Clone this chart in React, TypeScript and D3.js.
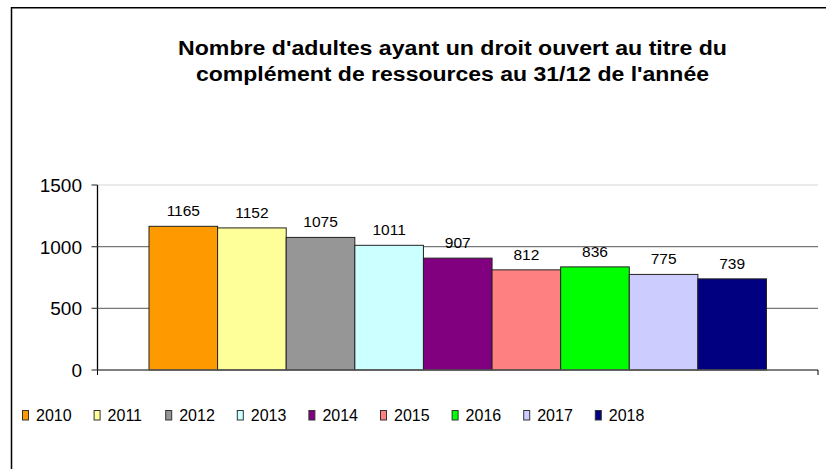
import React from 'react';
import * as d3 from 'd3';

const years = ['2010', '2011', '2012', '2013', '2014', '2015', '2016', '2017', '2018'];
const values = [1165, 1152, 1075, 1011, 907, 812, 836, 775, 739];
const colors = ['#FF9900', '#FFFF99', '#969696', '#CCFFFF', '#800080', '#FF8080', '#00FF00', '#CCCCFF', '#000080'];
const yTicks = [0, 500, 1000, 1500];
const titleLines = [
  "Nombre d'adultes ayant un droit ouvert au titre du",
  "complément de ressources au 31/12 de l'année",
];
const titleWidths = [549, 513];

const W = 826;
const H = 469;
const plotLeft = 97.5;
const plotRight = 818;
const plotTop = 185;
const plotBottom = 370;
const gap = 51.5;
const font = "'Liberation Sans', Arial, sans-serif";

export default function App() {
  const x = d3.scaleBand<string>().domain(years).range([plotLeft + gap, plotRight - gap]).padding(0);
  const y = d3.scaleLinear().domain([0, 1500]).range([plotBottom, plotTop]);
  const legendX = d3.scaleBand<string>().domain(years).range([22, 22 + 71.6 * years.length]);
  const top = y.domain()[1];

  return (
    <svg width={W} height={H} style={{ position: 'absolute', left: 0, top: 0, background: '#fff' }} fontFamily={font}>
      <rect x={0} y={0} width={W} height={H} fill="#fff" />
      {/* frame */}
      <line x1={11.5} y1={7.75} x2={W} y2={7.75} stroke="#000" strokeWidth={1.5} />
      <line x1={11.5} y1={7} x2={11.5} y2={H} stroke="#000" strokeWidth={1.5} />

      {/* title */}
      {titleLines.map((t, i) => (
        <text key={i} x={452.5} y={55 + i * 26} textAnchor="middle" fontWeight="bold" fontSize={20} fill="#000"
          textLength={titleWidths[i]} lengthAdjust="spacingAndGlyphs">
          {t}
        </text>
      ))}

      {/* gridlines */}
      {yTicks.filter((t) => t !== 0).map((t) => (
        <line key={t} x1={plotLeft} x2={plotRight} y1={y(t)} y2={y(t)}
          stroke={t === top ? '#e3e3e3' : '#777'} strokeWidth={1.3} />
      ))}

      {/* data labels (drawn behind bars) */}
      {years.map((yr, i) => (
        <text key={yr} x={(x(yr) as number) + x.bandwidth() / 2} y={y(values[i]) - 10}
          textAnchor="middle" fontSize={15.5} fill="#000">
          {values[i]}
        </text>
      ))}

      {/* bars */}
      {years.map((yr, i) => (
        <rect key={yr} x={x(yr)} y={y(values[i])} width={x.bandwidth()} height={plotBottom - y(values[i])}
          fill={colors[i]} stroke="#222" strokeWidth={1} />
      ))}

      {/* x axis */}
      <line x1={plotLeft} x2={plotRight} y1={plotBottom} y2={plotBottom} stroke="#555" strokeWidth={1.5} />
      <line x1={plotLeft} x2={plotLeft} y1={plotBottom} y2={plotBottom + 5} stroke="#000" strokeWidth={1} />
      <line x1={plotRight} x2={plotRight} y1={plotBottom} y2={plotBottom + 5} stroke="#000" strokeWidth={1} />

      {/* y axis */}
      <line x1={plotLeft} x2={plotLeft} y1={plotTop} y2={plotBottom} stroke="#000" strokeWidth={1.3} />
      {yTicks.map((t) => (
        <g key={t}>
          <line x1={plotLeft - 6} x2={plotLeft} y1={y(t)} y2={y(t)} stroke="#555" strokeWidth={1.3} />
          <text x={82} y={y(t)} dy="0.36em" textAnchor="end" fontSize={19} fill="#000">
            {t}
          </text>
        </g>
      ))}

      {/* legend */}
      {years.map((yr, i) => {
        const lx = legendX(yr) as number;
        return (
          <g key={yr}>
            <rect x={lx + 0.5} y={410.5} width={6} height={9.5} fill={colors[i]} stroke="#333" strokeWidth={1} />
            <text x={lx + 14} y={421} fontSize={16} fill="#000">
              {yr}
            </text>
          </g>
        );
      })}
    </svg>
  );
}
